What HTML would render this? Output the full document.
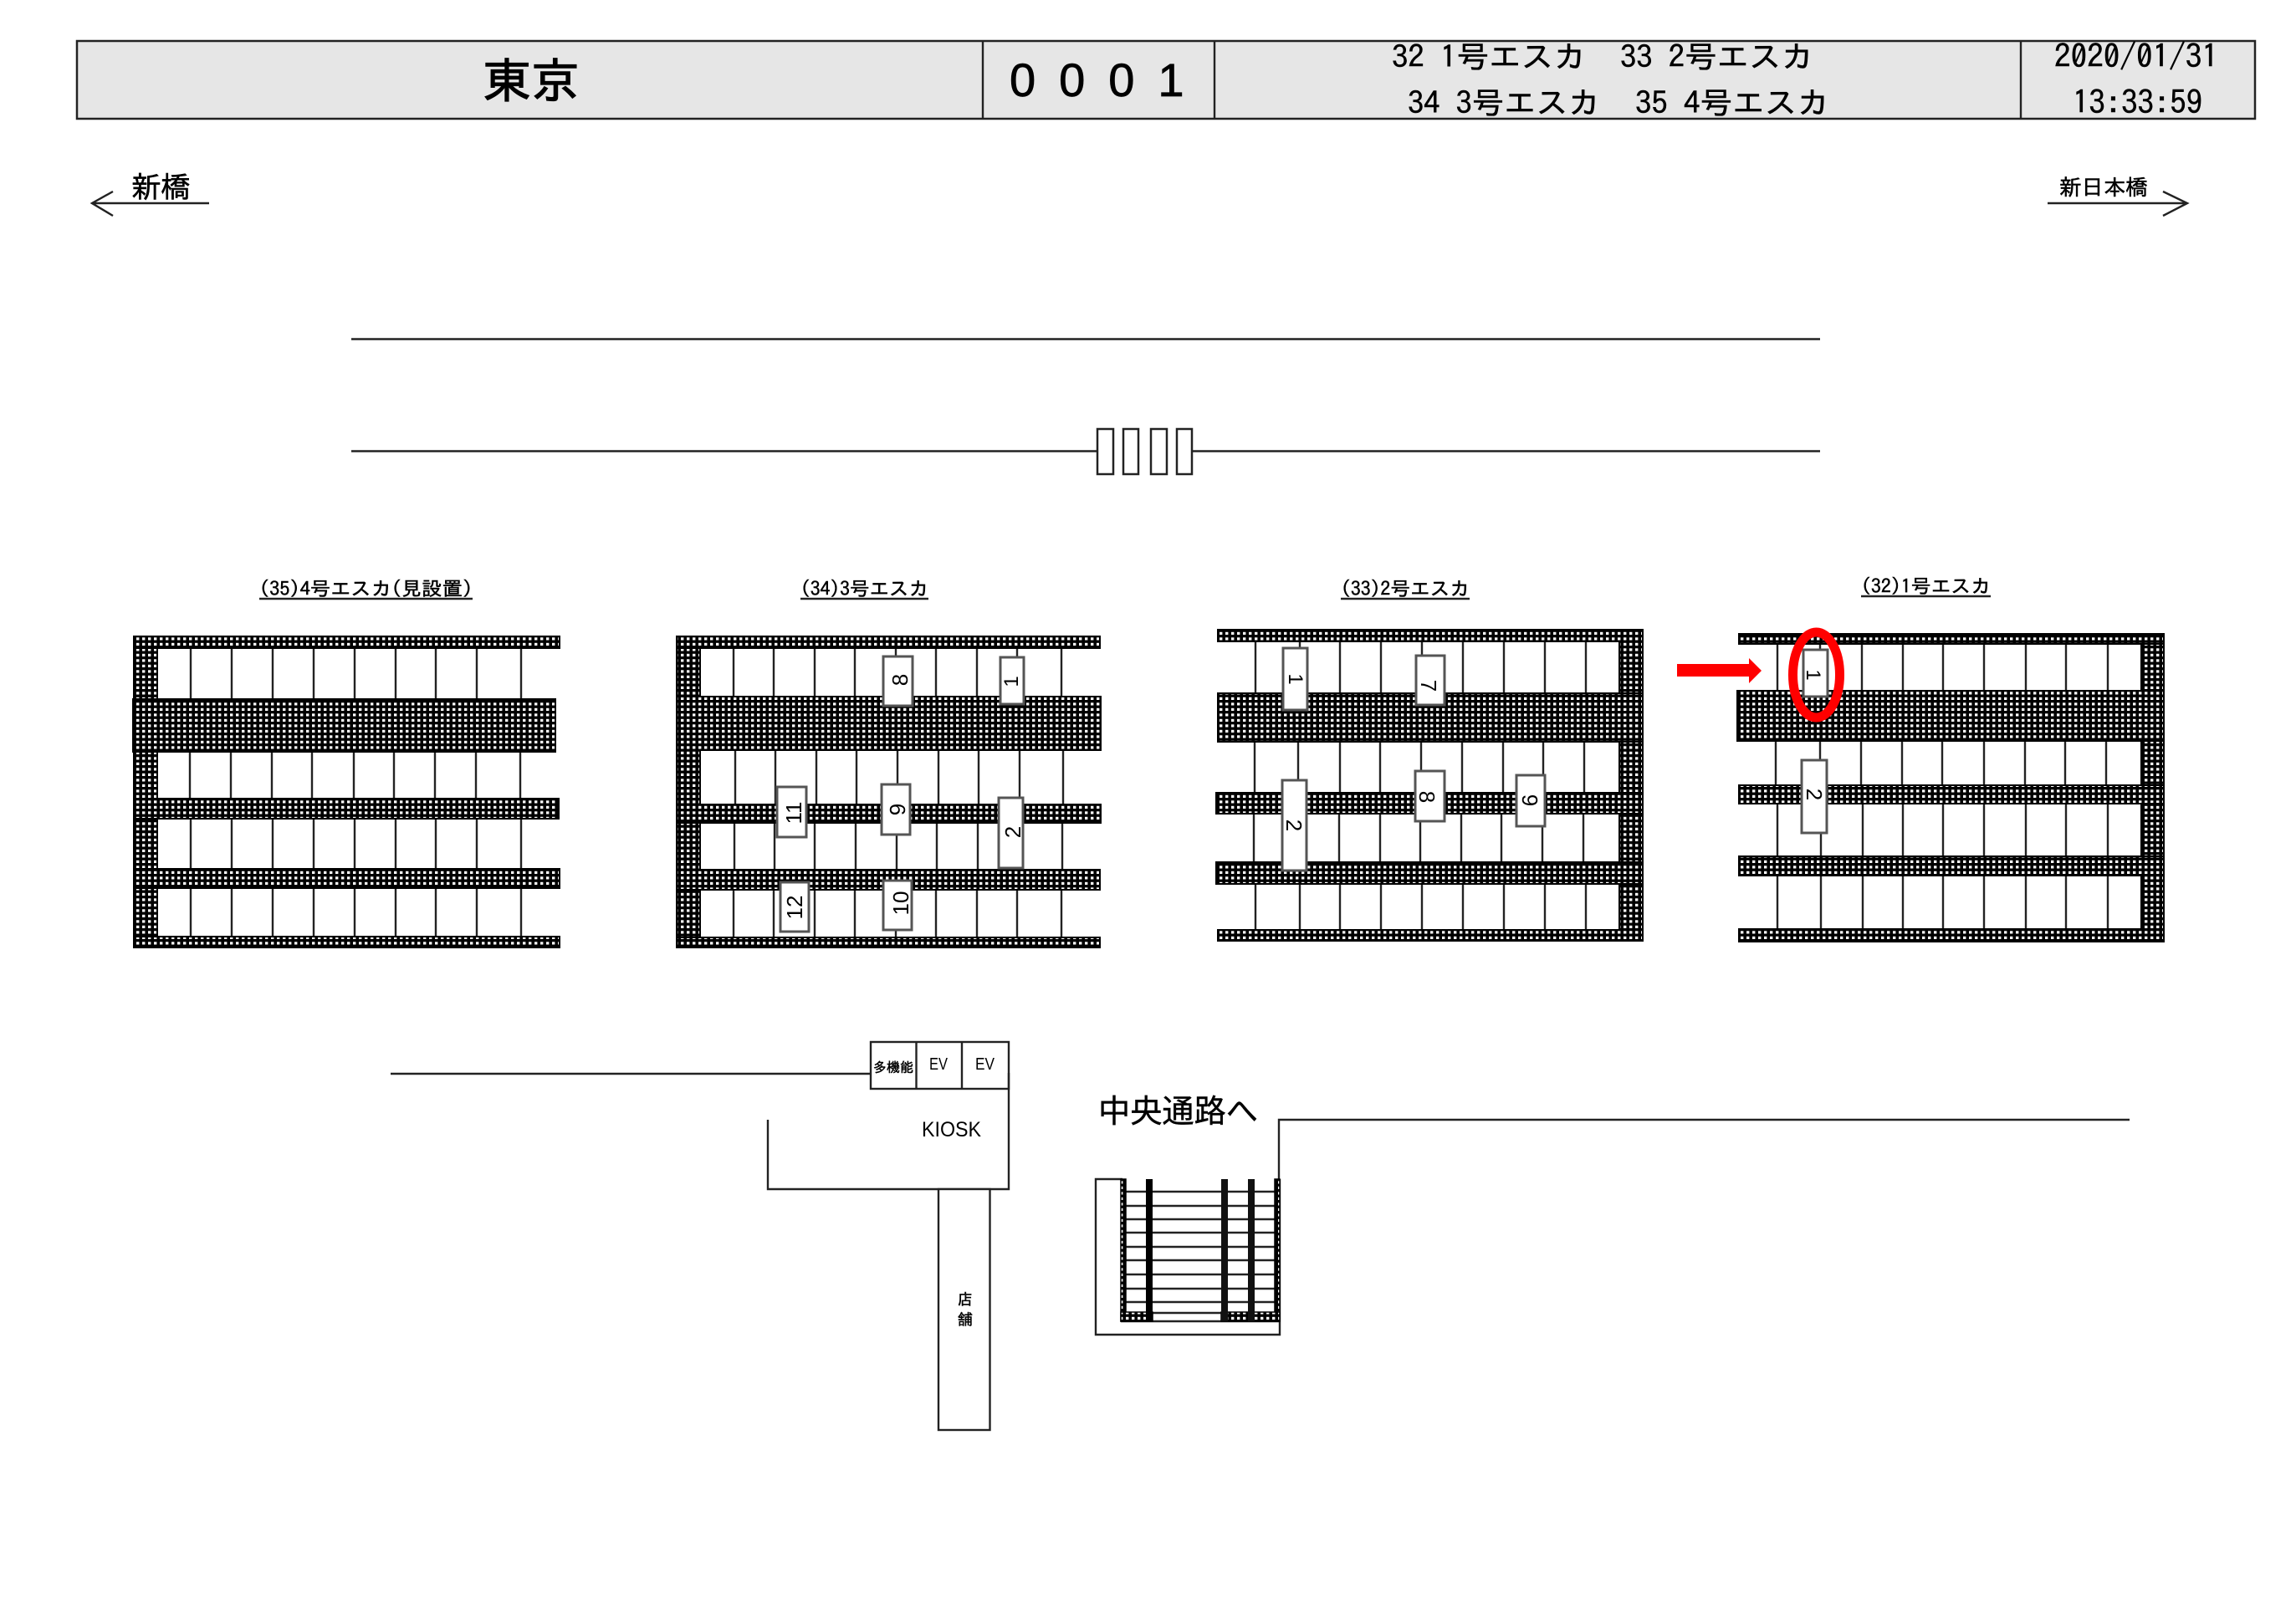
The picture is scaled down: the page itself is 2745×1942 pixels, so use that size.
<!DOCTYPE html>
<html lang="ja">
<head>
<meta charset="utf-8">
<title>東京 0001</title>
<style>
html,body{margin:0;padding:0;background:#fff;}
svg{display:block;}
.g{font-family:"IPAGothic","Liberation Sans","Noto Sans CJK JP",sans-serif;fill:#000;white-space:pre;stroke:#000;stroke-width:.5;}
.n{font-family:"Liberation Sans","Noto Sans CJK JP",sans-serif;fill:#000;}
.j{font-family:"Liberation Sans","Noto Sans CJK JP",sans-serif;fill:#000;stroke:#000;stroke-width:.4;}
.ln{stroke:#222;stroke-width:2.4;fill:none;}
.bd{fill:url(#d);stroke:#000;stroke-width:2;}
.bx{fill:#fff;stroke:#555;stroke-width:3;}
</style>
</head>
<body>
<svg xmlns="http://www.w3.org/2000/svg" width="2745" height="1942" viewBox="0 0 2745 1942">
<defs>
<pattern id="d" patternUnits="userSpaceOnUse" width="7" height="6.5">
<rect width="7" height="6.5" fill="#000"/>
<rect x="2" y="1.800" width="3.400" height="3.200" fill="#fff"/>
</pattern>
</defs>
<rect width="2745" height="1942" fill="#fff"/>

<!-- header -->
<rect x="92" y="49" width="2604" height="93" fill="#e6e6e6" stroke="#222" stroke-width="2.5"/>
<path class="ln" d="M1175 48V142M1452 48V142M2416 48V142"/>
<text class="g" x="577" y="117" font-size="57" textLength="116" lengthAdjust="spacingAndGlyphs" style="stroke-width:1.200">東京</text>
<text class="n" x="1207" y="115" font-size="56" letter-spacing="28" stroke="#000" stroke-width=".8">0001</text>
<text class="g" x="1664" y="81" font-size="37" textLength="232" lengthAdjust="spacingAndGlyphs">32 1号エスカ</text>
<text class="g" x="1937" y="81" font-size="37" textLength="231" lengthAdjust="spacingAndGlyphs">33 2号エスカ</text>
<text class="g" x="1683" y="136" font-size="37" textLength="230" lengthAdjust="spacingAndGlyphs">34 3号エスカ</text>
<text class="g" x="1955" y="136" font-size="37" textLength="232" lengthAdjust="spacingAndGlyphs">35 4号エスカ</text>
<text class="g" x="2456" y="81" font-size="38" textLength="196" lengthAdjust="spacingAndGlyphs">2020/01/31</text>
<text class="g" x="2478" y="136" font-size="38" textLength="155" lengthAdjust="spacingAndGlyphs">13:33:59</text>

<!-- direction arrows -->
<text class="g" x="157" y="236" font-size="35" textLength="71" lengthAdjust="spacingAndGlyphs">新橋</text>
<path class="ln" d="M250 243H110M135 229L110 243L135 258"/>
<text class="g" x="2462" y="233" font-size="26" textLength="106" lengthAdjust="spacingAndGlyphs">新日本橋</text>
<path class="ln" d="M2448 243H2615M2586 229L2615 243L2586 258"/>

<!-- tracks -->
<path class="ln" d="M420 405.500H2176M420 539.500H1312M1425 539.500H2176"/>
<g fill="#fff" stroke="#222" stroke-width="2.5">
<rect x="1312" y="513" width="19" height="54"/>
<rect x="1343" y="513" width="18" height="54"/>
<rect x="1376" y="513" width="19" height="54"/>
<rect x="1407" y="513" width="18" height="54"/>
</g>

<!-- panel 35 -->
<text class="g" x="310" y="712" font-size="23" textLength="255" lengthAdjust="spacingAndGlyphs">(35)4号エスカ(見設置)</text>
<path class="ln" d="M310 716H565"/>
<path class="ln" d="M228 775V835M277 775V835M326 775V835M375 775V835M424 775V835M473 775V835M521 775V835M570 775V835M623 775V835M227 899V954M276 899V954M325 899V954M373 899V954M423 899V954M471 899V954M520 899V954M569 899V954M622 899V954M228 979V1038M277 979V1038M326 979V1038M375 979V1038M424 979V1038M473 979V1038M521 979V1038M570 979V1038M623 979V1038M228 1062V1119M277 1062V1119M326 1062V1119M375 1062V1119M424 1062V1119M473 1062V1119M521 1062V1119M570 1062V1119M623 1062V1119"/>
<g class="bd">
<rect x="160" y="761" width="28" height="372"/>
<rect x="160" y="761" width="509" height="14"/>
<rect x="159" y="836" width="505" height="63"/>
<rect x="160" y="955" width="508" height="24"/>
<rect x="160" y="1039" width="509" height="23"/>
<rect x="160" y="1120" width="509" height="13"/>
</g>

<!-- panel 34 -->
<text class="g" x="957" y="712" font-size="23" textLength="153" lengthAdjust="spacingAndGlyphs">(34)3号エスカ</text>
<path class="ln" d="M957 716H1110"/>
<path class="ln" d="M877 775V832M925 775V832M974 775V832M1022 775V832M1071 775V832M1119 775V832M1168 775V832M1216 775V832M1269 775V832M879 897V961M927 897V961M976 897V961M1024 897V961M1073 897V961M1122 897V961M1170 897V961M1219 897V961M1271 897V961M878 984V1039M926 984V1039M974 984V1039M1023 984V1039M1072 984V1039M1120 984V1039M1169 984V1039M1217 984V1039M1270 984V1039M877 1064V1120M925 1064V1120M974 1064V1120M1022 1064V1120M1071 1064V1120M1119 1064V1120M1168 1064V1120M1216 1064V1120M1269 1064V1120"/>
<g class="bd">
<rect x="809" y="761" width="28" height="372"/>
<rect x="809" y="761" width="506" height="14"/>
<rect x="809" y="833" width="507" height="64"/>
<rect x="809" y="962" width="507" height="22"/>
<rect x="809" y="1040" width="506" height="24"/>
<rect x="809" y="1121" width="506" height="12"/>
</g>
<g class="bx">
<rect x="1056" y="785" width="35" height="59"/>
<rect x="1196" y="786" width="28" height="56"/>
<rect x="929" y="941" width="35" height="60"/>
<rect x="1054" y="938" width="34" height="60"/>
<rect x="1194" y="954" width="29" height="84"/>
<rect x="933" y="1055" width="34" height="59"/>
<rect x="1056" y="1053" width="34" height="59"/>
</g>
<g class="n" font-size="26" text-anchor="middle">
<text transform="translate(1085,813) rotate(-90)">8</text>
<text transform="translate(1217,815) rotate(-90)" font-size="24">1</text>
<text transform="translate(958,972) rotate(-90)">11</text>
<text transform="translate(1082,968) rotate(-90)">9</text>
<text transform="translate(1220,995) rotate(-90)">2</text>
<text transform="translate(959,1085) rotate(-90)">12</text>
<text transform="translate(1086,1080) rotate(-90)">10</text>
</g>

<!-- panel 33 -->
<text class="g" x="1603" y="712" font-size="23" textLength="154" lengthAdjust="spacingAndGlyphs">(33)2号エスカ</text>
<path class="ln" d="M1603 716H1757"/>
<path class="ln" d="M1501 767V828M1554 767V828M1602 767V828M1651 767V828M1700 767V828M1749 767V828M1798 767V828M1847 767V828M1896 767V828M1500 887V947M1552 887V947M1602 887V947M1650 887V947M1699 887V947M1748 887V947M1797 887V947M1845 887V947M1894 887V947M1499 973V1030M1552 973V1030M1601 973V1030M1650 973V1030M1698 973V1030M1747 973V1030M1795 973V1030M1844 973V1030M1893 973V1030M1501 1057V1111M1554 1057V1111M1602 1057V1111M1651 1057V1111M1700 1057V1111M1749 1057V1111M1798 1057V1111M1847 1057V1111M1896 1057V1111"/>
<g class="bd">
<rect x="1936" y="753" width="28" height="372"/>
<rect x="1456" y="753" width="508" height="14"/>
<rect x="1456" y="829" width="508" height="58"/>
<rect x="1454" y="948" width="510" height="25"/>
<rect x="1454" y="1031" width="510" height="26"/>
<rect x="1456" y="1112" width="508" height="13"/>
</g>
<g class="bx">
<rect x="1534" y="775" width="29" height="74"/>
<rect x="1693" y="784" width="34" height="59"/>
<rect x="1533" y="933" width="29" height="108"/>
<rect x="1692" y="922" width="35" height="60"/>
<rect x="1813" y="927" width="34" height="61"/>
</g>
<g class="n" font-size="26" text-anchor="middle">
<text transform="translate(1541,812) rotate(90)" font-size="24">1</text>
<text transform="translate(1699,820) rotate(90)">7</text>
<text transform="translate(1538,987) rotate(90)">2</text>
<text transform="translate(1697,953) rotate(90)">8</text>
<text transform="translate(1820,957) rotate(90)">9</text>
</g>

<!-- panel 32 -->
<text class="g" x="2225" y="709" font-size="23" textLength="155" lengthAdjust="spacingAndGlyphs">(32)1号エスカ</text>
<path class="ln" d="M2225 713H2380"/>
<path class="ln" d="M2125 770V825M2176 770V825M2226 770V825M2275 770V825M2323 770V825M2372 770V825M2422 770V825M2470 770V825M2520 770V825M2123 886V938M2176 886V938M2225 886V938M2274 886V938M2322 886V938M2372 886V938M2421 886V938M2469 886V938M2518 886V938M2125 961V1023M2177 961V1023M2227 961V1023M2275 961V1023M2323 961V1023M2372 961V1023M2422 961V1023M2470 961V1023M2520 961V1023M2125 1047V1110M2177 1047V1110M2227 1047V1110M2275 1047V1110M2323 1047V1110M2372 1047V1110M2422 1047V1110M2470 1047V1110M2520 1047V1110"/>
<g class="bd">
<rect x="2560" y="758" width="27" height="368"/>
<rect x="2079" y="758" width="508" height="12"/>
<rect x="2077" y="826" width="510" height="60"/>
<rect x="2079" y="939" width="508" height="22"/>
<rect x="2079" y="1024" width="508" height="23"/>
<rect x="2079" y="1111" width="508" height="15"/>
</g>
<g class="bx">
<rect x="2156" y="777" width="29" height="56"/>
<rect x="2154" y="909" width="30" height="87"/>
</g>
<g class="n" font-size="26" text-anchor="middle">
<text transform="translate(2160,807) rotate(90)" font-size="24">1</text>
<text transform="translate(2160,950) rotate(90)">2</text>
</g>
<ellipse cx="2171.5" cy="807" rx="28" ry="51" fill="none" stroke="#f00" stroke-width="11"/>
<polygon points="2005,794 2091,794 2091,787 2106,802 2091,817 2091,809 2005,809" fill="#f00"/>

<!-- lower plan -->
<path class="ln" d="M467 1284H1041"/>
<rect x="1041" y="1246" width="165" height="56" fill="#fff" stroke="#222" stroke-width="2.400"/>
<path class="ln" d="M1095.500 1246V1302M1150 1246V1302"/>
<text class="g" x="1044" y="1282" font-size="16" textLength="48" lengthAdjust="spacingAndGlyphs">多機能</text>
<text class="n" x="1111" y="1279" font-size="20" textLength="22" lengthAdjust="spacingAndGlyphs">EV</text>
<text class="n" x="1166" y="1279" font-size="20" textLength="23" lengthAdjust="spacingAndGlyphs">EV</text>
<path class="ln" d="M918 1339V1422H1206V1283"/>
<text class="n" x="1102" y="1359" font-size="25" textLength="71" lengthAdjust="spacingAndGlyphs">KIOSK</text>
<rect x="1122" y="1422" width="61.500" height="288" fill="#fff" stroke="#222" stroke-width="2.400"/>
<text class="g" x="1145" y="1560" font-size="18">店</text>
<text class="g" x="1145" y="1584" font-size="18">舗</text>
<text class="j" x="1313" y="1342" font-size="38" textLength="191" lengthAdjust="spacingAndGlyphs">中央通路へ</text>
<path class="ln" d="M1529 1410V1339H2546"/>

<!-- stairs -->
<path class="ln" d="M1342 1410H1310V1596H1530V1410"/>
<path class="ln" d="M1342 1425H1528M1342 1442H1528M1342 1458H1528M1342 1474H1528M1342 1491H1528M1342 1507H1528M1342 1524H1528M1342 1541H1528M1342 1557H1528M1342 1570H1528M1340 1580H1530"/>
<g fill="url(#d)" stroke="#000" stroke-width="1.500">
<rect x="1340" y="1410" width="6" height="170"/>
<rect x="1524" y="1410" width="6" height="170"/>
<rect x="1340" y="1569" width="38" height="11"/>
<rect x="1460" y="1569" width="70" height="11"/>
</g>
<rect x="1370" y="1410" width="8" height="170" fill="#000"/>
<rect x="1460" y="1410" width="8" height="170" fill="#111"/>
<rect x="1492" y="1410" width="8" height="170" fill="#111"/>
</svg>
</body>
</html>
